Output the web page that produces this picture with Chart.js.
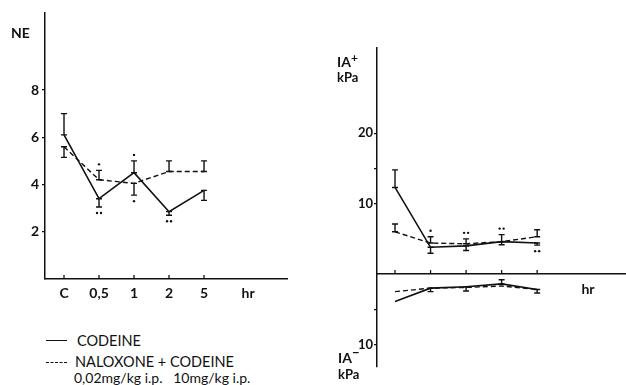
<!DOCTYPE html>
<html><head><meta charset="utf-8">
<script src="https://cdn.jsdelivr.net/npm/chart.js@4/dist/chart.umd.min.js"></script>
<style>
body{margin:0;background:#fff;width:626px;height:385px;overflow:hidden;position:relative;font-family:Lato,sans-serif;color:#111}
#c1{position:absolute;left:0;top:0}
#c2{position:absolute;left:320px;top:0}
.t{position:absolute;white-space:nowrap;line-height:1}
.b{font-weight:700}
.ln{position:absolute;width:21px;height:0;border-top:1.5px solid #111}
.ln.d{border-top:1.5px dashed #111}
</style></head><body>
<canvas id="c1" width="300" height="310"></canvas>
<canvas id="c2" width="306" height="385"></canvas>

<div class="t b" style="left:11px;top:26px;font-size:14px">NE</div>
<div class="t b" style="left:337px;top:55px;font-size:14px">IA<span style="position:relative;top:-5px;font-size:12px">+</span></div>
<div class="t b" style="left:337px;top:71px;font-size:13px">kPa</div>
<div class="t b" style="left:338px;top:351px;font-size:14px">IA<span style="position:relative;top:-6px;font-size:13px">−</span></div>
<div class="t b" style="left:338px;top:368px;font-size:13px">kPa</div>

<div class="ln" style="left:46px;top:340px"></div>
<div class="t" style="left:77px;top:334px;font-size:14.5px">CODEINE</div>
<div class="ln d" style="left:46px;top:362px"></div>
<div class="t" style="left:75px;top:355px;font-size:14.5px">NALOXONE + CODEINE</div>
<div class="t" style="left:74px;top:371px;font-size:14px">0,02mg/kg i.p.&nbsp;&nbsp; 10mg/kg i.p.</div>

<script>
// ---- data ----
const categories = ['C', '0,5', '1', '2', '5'];
const timeUnit = 'hr';

// NE panel
const neCodeine      = [6.1, 3.4, 4.5, 2.85, 3.75];
const neCodeineErr   = [0.9, -0.35, 0.5, -0.15, -0.42];
const neCodeineSig   = ['', '..', '.', '..', ''];
const neNaloxone     = [5.6, 4.2, 4.05, 4.55, 4.55];
const neNaloxoneErr  = [-0.45, 0.4, -0.5, 0.45, 0.45];
const neNaloxoneSig  = ['', '.', '.', '', ''];
const neTicks        = [2, 4, 6, 8];

// IA+ panel (kPa)
const iaPlusCodeine     = [12.3, 3.8, 4.0, 4.6, 4.4];
const iaPlusCodeineErr  = [2.5, -0.85, -0.65, -0.45, -0.3];
const iaPlusCodeineSig  = ['', '', '', '', '..'];
const iaPlusNaloxone    = [6.0, 4.4, 4.3, 4.6, 5.3];
const iaPlusNaloxoneErr = [1.1, 0.9, 0.7, 1.0, 1.0];
const iaPlusNaloxoneSig = ['', '.', '..', '..', ''];

// IA- panel (kPa, magnitude, drawn below zero)
const iaMinusCodeine     = [3.9, 2.0, 1.8, 1.4, 2.2];
const iaMinusCodeineErr  = [0, 0.5, 0.6, -0.6, 0.5];
const iaMinusNaloxone    = [2.5, 2.0, 1.9, 1.7, 2.2];
const iaMinusNaloxoneErr = [0, 0, 0, 0, 0];
const iaTicks = [-10, -5, 10, 15, 20];
const iaLabels = {20: '20', 10: '10', '-10': '10'};

// ---- rendering ----
const INK = '#111';
const FONT = 'Lato';

function pts(arr, sign) { return arr.map((v, i) => ({x: i, y: sign * v})); }
function signed(arr, sign) { return arr.map(v => sign * v); }

function ds(values, err, sig, dashed, sign) {
  return {
    data: pts(values, sign || 1),
    err: signed(err, sign || 1),
    sig: sig || [],
    borderColor: INK, borderWidth: dashed ? 1.4 : 1.6,
    borderDash: dashed ? [5, 3] : [],
    pointRadius: 0, tension: 0, fill: false
  };
}

const markPlugin = {
  id: 'marks',
  afterDatasetsDraw(chart) {
    const ctx = chart.ctx, xs = chart.scales.x, ys = chart.scales.y;
    ctx.save();
    ctx.strokeStyle = INK; ctx.fillStyle = INK; ctx.setLineDash([]);
    // x tick marks (inward)
    const y0 = ys.getPixelForValue(0);
    ctx.lineWidth = 1.3;
    categories.forEach((c, i) => {
      const x = xs.getPixelForValue(i);
      ctx.beginPath(); ctx.moveTo(x, y0); ctx.lineTo(x, y0 - 4); ctx.stroke();
    });
    // error bars + significance dots
    chart.data.datasets.forEach(d => {
      d.data.forEach((p, i) => {
        const e = d.err[i];
        const x = xs.getPixelForValue(p.x);
        const ya = ys.getPixelForValue(p.y);
        let yb = ya;
        if (e) {
          yb = ys.getPixelForValue(p.y + e);
          ctx.lineWidth = 1.4;
          ctx.beginPath();
          ctx.moveTo(x, ya); ctx.lineTo(x, yb);
          ctx.moveTo(x - 3, yb); ctx.lineTo(x + 3, yb);
          ctx.moveTo(x - 3, ya); ctx.lineTo(x + 3, ya);
          ctx.stroke();
        }
        const s = d.sig[i];
        if (s) {
          const dir = (e || -1) > 0 ? -1 : 1;
          const yd = yb + dir * 6;
          const n = s.length;
          for (let k = 0; k < n; k++) {
            const xd = x + (k - (n - 1) / 2) * 4;
            ctx.beginPath(); ctx.arc(xd, yd, 1.2, 0, Math.PI * 2); ctx.fill();
          }
        }
      });
    });
    ctx.restore();
  }
};

Chart.defaults.font.family = FONT;
Chart.defaults.color = INK;
Chart.defaults.animation = false;

// Left: NE
new Chart(document.getElementById('c1'), {
  type: 'line',
  data: { datasets: [
    ds(neCodeine, neCodeineErr, neCodeineSig, false),
    ds(neNaloxone, neNaloxoneErr, neNaloxoneSig, true)
  ]},
  options: {
    responsive: false, animation: false,
    layout: { padding: { left: 0, top: 13, right: 13, bottom: 0 } },
    plugins: { legend: { display: false }, tooltip: { enabled: false } },
    scales: {
      x: {
        type: 'linear', min: -0.543, max: 6.37,
        afterBuildTicks: s => { s.ticks = categories.map((c, i) => ({value: i})).concat([{value: 5.26}]); },
        afterFit: s => { s.height = 31; },
        ticks: { autoSkip: false, maxRotation: 0, padding: 6,
          font: { size: 14, weight: 'bold' },
          callback: (v) => v === 5.26 ? timeUnit : categories[v] },
        grid: { display: false, drawTicks: false },
        border: { display: true, color: INK, width: 1.5 }
      },
      y: {
        min: 0, max: 11.26,
        afterBuildTicks: s => { s.ticks = neTicks.map(v => ({value: v})); },
        afterFit: s => { s.width = 45; },
        ticks: { padding: 3, font: { size: 14, weight: 'bold' } },
        grid: { drawOnChartArea: false, drawTicks: true, tickLength: 3, color: INK, lineWidth: 1.2 },
        border: { display: true, color: INK, width: 1.5 }
      }
    }
  },
  plugins: [markPlugin]
});

// Right: IA+ / IA-
new Chart(document.getElementById('c2'), {
  type: 'line',
  data: { datasets: [
    ds(iaPlusCodeine, iaPlusCodeineErr, iaPlusCodeineSig, false),
    ds(iaPlusNaloxone, iaPlusNaloxoneErr, iaPlusNaloxoneSig, true),
    ds(iaMinusCodeine, iaMinusCodeineErr, [], false, -1),
    ds(iaMinusNaloxone, iaMinusNaloxoneErr, [], true, -1)
  ]},
  options: {
    responsive: false, animation: false,
    layout: { padding: { left: 0, top: 48, right: 0, bottom: 18 } },
    plugins: { legend: { display: false }, tooltip: { enabled: false } },
    scales: {
      x: {
        type: 'linear', min: -0.507, max: 6.5, position: { y: 0 },
        afterBuildTicks: s => { s.ticks = [{value: 5.43}]; },
        ticks: { autoSkip: false, maxRotation: 0, padding: 7,
          font: { size: 14, weight: 'bold' },
          callback: () => timeUnit },
        grid: { display: false, drawTicks: false },
        border: { display: true, color: INK, width: 1.5 }
      },
      y: {
        min: -13.2, max: 32.1,
        afterBuildTicks: s => { s.ticks = iaTicks.map(v => ({value: v})); },
        afterFit: s => { s.width = 57; },
        ticks: { padding: 1, font: { size: 13, weight: 'bold' },
          callback: v => iaLabels[v] || '' },
        grid: { drawOnChartArea: false, drawTicks: true, tickLength: 3, color: INK, lineWidth: 1.2 },
        border: { display: true, color: INK, width: 1.5 }
      }
    }
  },
  plugins: [markPlugin]
});
</script>
</body></html>
